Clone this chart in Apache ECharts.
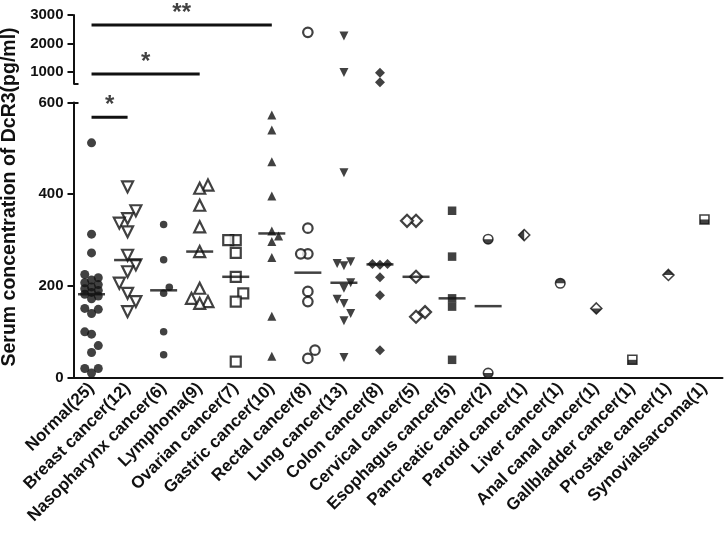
<!DOCTYPE html>
<html><head><meta charset="utf-8">
<script src="https://cdn.jsdelivr.net/npm/echarts@6/dist/echarts.min.js"></script>
<style>html,body{margin:0;padding:0;background:#fff}#c{width:725px;height:540px}</style>
</head><body><div id="c"></div>
<script>
// ---------- data ----------
const categories = ['Normal(25)','Breast cancer(12)','Nasopharynx cancer(6)','Lymphoma(9)','Ovarian cancer(7)','Gastric cancer(10)','Rectal cancer(8)','Lung cancer(13)','Colon cancer(8)','Cervical cancer(5)','Esophagus cancer(5)','Pancreatic cancer(2)','Parotid cancer(1)','Liver cancer(1)','Anal canal cancer(1)','Gallbladder cancer(1)','Prostate cancer(1)','Synovialsarcoma(1)'];
const normal = [512,313,272,225,218,213,207,203,198,194,190,186,182,178,172,151,149,140,100,95,70,55,20,20,10];
const breast = [416,364,347,337,318,267,246,231,206,184,166,144];
const nasopharynx = [334,257,197,184,100,50];
const lymphoma = [420,413,376,329,275,195,173,166,162];
const ovarian = [300,300,272,220,184,166,35];
const gastric = [573,540,471,396,320,309,297,262,134,47];
const rectal = [2393,326,270,270,188,166,60,42];
const lung = [2263,980,447,253,249,244,207,195,171,162,140,124,44];
const colon = [976,640,248,248,246,219,180,60];
const cervical = [342,342,220,143,133];
const esophagus = [364,264,173,155,39];
const pancreatic = [302,10];
const parotid = [311];
const liver = [206];
const analCanal = [151];
const gallbladder = [39];
const prostate = [224];
const synovialsarcoma = [345];
const yLowerTicks = [0,200,400,600];
const yUpperTicks = [1000,2000,3000];
const sigFrom = [0,0,0];
const sigTo = [1,3,5];
const sigLevel = [568,930,2650];
const sigText = ['*','*','**'];

const columns = [normal,breast,nasopharynx,lymphoma,ovarian,gastric,rectal,lung,colon,cervical,esophagus,pancreatic,parotid,liver,analCanal,gallbladder,prostate,synovialsarcoma];

// ---------- layout / styles ----------
const FONT = '"Liberation Sans", Arial, Helvetica, sans-serif';
const INK = '#111';
const GRID_LEFT = 73.5, GRID_W = 649;
const UP_TOP = 15, UP_H = 68.4, LO_TOP = 102.5, LO_H = 275.2;
const BREAK = 600, TOP_MAX = 3000;
const BAND = 36;

const styles = [
  {symbol:'circle', size:9, mode:'fill'},
  {symbol:'triangle', rot:180, size:11, mode:'open'},
  {symbol:'circle', size:7.5, mode:'fill'},
  {symbol:'triangle', size:11, mode:'open'},
  {symbol:'rect', size:10, mode:'open'},
  {symbol:'triangle', size:9, mode:'fill'},
  {symbol:'circle', size:9.5, mode:'open'},
  {symbol:'triangle', rot:180, size:9, mode:'fill'},
  {symbol:'diamond', size:10, mode:'fill'},
  {symbol:'diamond', size:12, mode:'open'},
  {symbol:'rect', size:8.5, mode:'fill'},
  {symbol:'circle', size:9.5, mode:'half', half:'path://M 0 0 M 10 10 M 0 5 C 0 7.76 2.24 10 5 10 C 7.76 10 10 7.76 10 5 Z'},
  {symbol:'diamond', size:11, mode:'half', half:'path://M 0 0 M 10 10 M 5 0 L 0 5 L 5 10 Z'},
  {symbol:'circle', size:9.5, mode:'half', half:'path://M 0 0 M 10 10 M 0 5 C 0 2.24 2.24 0 5 0 C 7.76 0 10 2.24 10 5 Z'},
  {symbol:'diamond', size:11, mode:'half', half:'path://M 0 0 M 10 10 M 0 5 L 5 10 L 10 5 Z'},
  {symbol:'rect', size:9, mode:'half', half:'path://M 0 0 M 10 10 M 0 5 L 10 5 L 10 10 L 0 10 Z'},
  {symbol:'diamond', size:11, mode:'half', half:'path://M 0 0 M 10 10 M 0 5 L 5 0 L 10 5 Z'},
  {symbol:'rect', size:9, mode:'half', half:'path://M 0 0 M 10 10 M 0 5 L 10 5 L 10 10 L 0 10 Z'}
];

function yPx(v){ return v > BREAK ? UP_TOP + (TOP_MAX - v) / (TOP_MAX - BREAK) * UP_H : LO_TOP + (BREAK - v) / BREAK * LO_H; }

// simple beeswarm so overlapping points sit side by side (like Prism), at most one step either side
function swarm(vals, size){
  const order = vals.map((v,i)=>i).sort((a,b)=>vals[a]-vals[b]);
  const placed = []; const off = new Array(vals.length).fill(0);
  const step = size * 0.75, hlim = step * 0.99, vlim = size * 0.95; let side = 1;
  const clearance = (x, y) => placed.reduce((m, p) => Math.min(m, Math.hypot(p.x - x, p.y - y)), Infinity);
  for (const i of order){
    const y = yPx(vals[i]);
    const free = x => placed.every(p => Math.abs(p.x - x) >= hlim || Math.abs(p.y - y) >= vlim);
    let x = 0;
    if (!free(0)){
      const c = [side*step, -side*step];
      const f = c.find(free);
      if (f !== undefined) x = f;
      else x = [0, side*step, -side*step].reduce((b, cx) => clearance(cx, y) > clearance(b, y) ? cx : b, 0);
      side = -side;
    }
    placed.push({x, y}); off[i] = x / BAND;
  }
  return off;
}
function median(a){ const s=[...a].sort((x,y)=>x-y), n=s.length; return n%2 ? s[(n-1)/2] : (s[n/2-1]+s[n/2])/2; }

const series = [];
columns.forEach((vals, ci) => {
  const st = styles[ci]; const off = swarm(vals, st.size);
  const lower = [], upper = [];
  vals.forEach((v,k) => (v > BREAK ? upper : lower).push([ci + off[k], v]));
  const base = {
    type:'scatter', symbol: st.symbol, symbolSize: st.size, symbolRotate: st.rot || 0, silent:true, z:3,
    itemStyle: st.mode === 'fill' ? {color: INK} : {color:'#fff', borderColor: INK, borderWidth: st.mode === 'open' ? 2.2 : 1.6}
  };
  if (lower.length) series.push(Object.assign({}, base, {xAxisIndex:2, yAxisIndex:1, data: lower}));
  if (upper.length) series.push(Object.assign({}, base, {xAxisIndex:0, yAxisIndex:0, data: upper}));
  if (st.mode === 'half') series.push({type:'scatter', symbol: st.half, symbolSize: st.size, xAxisIndex:2, yAxisIndex:1, data: lower, itemStyle:{color: INK}, z:4, silent:true});
});
const medians = [];
columns.forEach((vals, ci) => { if (vals.length > 1) medians.push([ci, median(vals)]); });
series.push({type:'scatter', symbol:'rect', symbolSize:[27,2.5], xAxisIndex:2, yAxisIndex:1, data: medians, itemStyle:{color: INK}, z:5, silent:true});

sigLevel.forEach((v, i) => {
  const up = v > BREAK;
  const ax = {xAxisIndex: up ? 0 : 2, yAxisIndex: up ? 0 : 1};
  series.push(Object.assign({type:'line', data:[[sigFrom[i], v],[sigTo[i], v]], symbol:'none', lineStyle:{color: INK, width:3}, silent:true, z:2}, ax));
  series.push(Object.assign({type:'scatter', data:[[(sigFrom[i]+sigTo[i])/2, v]], symbolSize:0, silent:true, clip:false,
    label:{show:true, position:'top', distance:0, formatter: sigText[i], fontSize:24, fontWeight:'bold', color: INK, fontFamily: FONT}}, ax));
});

const hiddenX = g => ({gridIndex:g, type:'value', min:-0.5, max:categories.length - 0.5, show:false});
const tickStyle = {color: INK, width: 2};
const labelStyle = {fontSize:15, fontWeight:'bold', color: INK, fontFamily: FONT, margin:10, formatter: v => String(v)};

const option = {
  animation:false,
  backgroundColor:'#fff',
  grid:[
    {left:GRID_LEFT, width:GRID_W, top:UP_TOP, height:UP_H},
    {left:GRID_LEFT, width:GRID_W, top:LO_TOP, height:LO_H}
  ],
  xAxis:[
    hiddenX(0),
    {gridIndex:1, type:'category', data: categories, boundaryGap:true, position:'bottom',
      axisLine:{onZero:false, lineStyle: tickStyle}, axisTick:{alignWithLabel:true, length:7, lineStyle: tickStyle},
      axisLabel:{interval:0, rotate:45, fontSize:17, fontWeight:'bold', color: INK, fontFamily: FONT, margin:8}, splitLine:{show:false}},
    hiddenX(1)
  ],
  yAxis:[
    {gridIndex:0, type:'value', min:BREAK, max:TOP_MAX, position:'left',
      axisLine:{show:true, onZero:false, lineStyle: tickStyle},
      axisTick:{show:true, length:6, lineStyle: tickStyle, customValues: yUpperTicks},
      axisLabel: Object.assign({customValues: yUpperTicks}, labelStyle), splitLine:{show:false}},
    {gridIndex:1, type:'value', min:0, max:BREAK, interval:200, position:'left',
      axisLine:{show:true, onZero:false, lineStyle: tickStyle},
      axisTick:{show:true, length:6, lineStyle: tickStyle},
      axisLabel: labelStyle, splitLine:{show:false}},
    {gridIndex:0, type:'value', min:BREAK, max:TOP_MAX, position:'left', axisLine:{show:false, onZero:false},
      axisTick:{show:true, inside:true, length:5, lineStyle: tickStyle, customValues:[BREAK]}, axisLabel:{show:false}, splitLine:{show:false}},
    {gridIndex:1, type:'value', min:0, max:BREAK, position:'left', axisLine:{show:false, onZero:false},
      axisTick:{show:true, inside:true, length:5, lineStyle: tickStyle, customValues:[BREAK]}, axisLabel:{show:false}, splitLine:{show:false}}
  ],
  graphic:[{type:'text', x:9.5, y:197, rotation:Math.PI/2,
    style:{text:'Serum concentration of DcR3(pg/ml)', font:'bold 19.5px ' + FONT, fill: INK, align:'center', verticalAlign:'middle'}}],
  series
};
const chart = echarts.init(document.getElementById('c'));
chart.setOption(option);
</script></body></html>
